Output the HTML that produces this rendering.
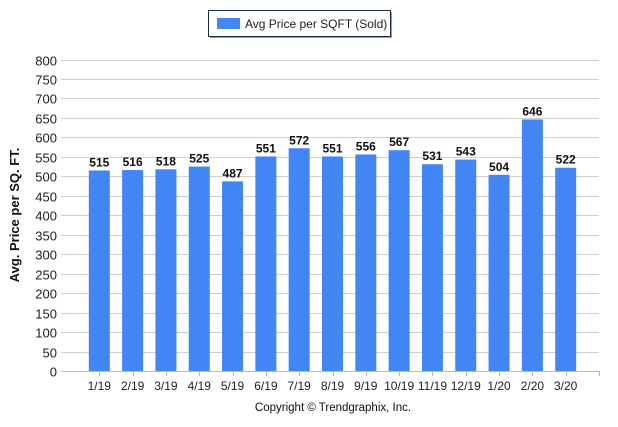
<!DOCTYPE html>
<html><head><meta charset="utf-8"><style>
body{margin:0;background:#fff;font-family:"Liberation Sans",sans-serif}
svg text{font-family:"Liberation Sans",sans-serif}
</style></head><body>
<svg width="618" height="422" xmlns="http://www.w3.org/2000/svg">
<g>
<rect x="208.5" y="10.5" width="182" height="26" fill="#fff" stroke="#1f2d4d" stroke-width="1"/>
<line x1="210" y1="37.5" x2="392" y2="37.5" stroke="#999"/><line x1="391.5" y1="12" x2="391.5" y2="38" stroke="#999"/>
<rect x="217" y="18" width="23" height="11" fill="#4285f4"/>
<text x="245" y="28" font-size="12" fill="#222">Avg Price per SQFT (Sold)</text>
</g>
<text transform="translate(19,215) rotate(-90)" text-anchor="middle" font-size="13" font-weight="bold" fill="#111">Avg. Price per SQ. FT.</text>
<g id="grid"></g><g id="bars"></g>
<text x="333" y="411" text-anchor="middle" font-size="11.5" fill="#111">Copyright © Trendgraphix, Inc.</text>
</svg>
<script>
const categories=["1/19","2/19","3/19","4/19","5/19","6/19","7/19","8/19","9/19","10/19","11/19","12/19","1/20","2/20","3/20"];
const values=[515,516,518,525,487,551,572,551,556,567,531,543,504,646,522];
const yTicks=[0,50,100,150,200,250,300,350,400,450,500,550,600,650,700,750,800];
const NS="http://www.w3.org/2000/svg";
const X0=66,X1=599,Y0=371,Y1=59.5,YMAX=800;
const step=(X1-X0)/(categories.length+1);
const y=v=>Y0-(v/YMAX)*(Y0-Y1);
const x=i=>X0+step*(i+1);
function mk(t,a,p){const e=document.createElementNS(NS,t);for(const k in a)e.setAttribute(k,a[k]);p.appendChild(e);return e;}
const grid=document.getElementById('grid'),bars=document.getElementById('bars');
yTicks.forEach(v=>{
 const yy=Math.round(y(v))+0.5;
 const l=mk('line',{x1:61,x2:X1,y1:yy,y2:yy,stroke:v===0?'#bbb':'#d0d0d0'},grid);
 
 
 const t=mk('text',{x:57,y:yy+5,'text-anchor':'end','font-size':13,fill:'#222'},grid);
 t.textContent=v;
 
 
});
mk('line',{x1:X1+0.5,x2:X1+0.5,y1:Y0,y2:Y0+5,stroke:'#bbb'},grid);
categories.forEach((c,i)=>{
 const cx=x(i),top=y(values[i]);
 const r=mk('rect',{x:cx-10.5,y:top,width:21,height:Y0-top,fill:'#4285f4'},bars);
 
 
 const tk=mk('line',{x1:Math.round(cx)+0.5,x2:Math.round(cx)+0.5,y1:Y0,y2:Y0+5,stroke:'#bbb'},grid);
 
 
 const lb=mk('text',{x:cx,y:top-4,'text-anchor':'middle','font-size':12,'font-weight':'bold',fill:'#111'},bars);
 lb.textContent=values[i];
 
 
 const xl=mk('text',{x:cx,y:390,'text-anchor':'middle','font-size':12,fill:'#222'},bars);
 xl.textContent=c;
 
 
});
</script>
</body></html>
